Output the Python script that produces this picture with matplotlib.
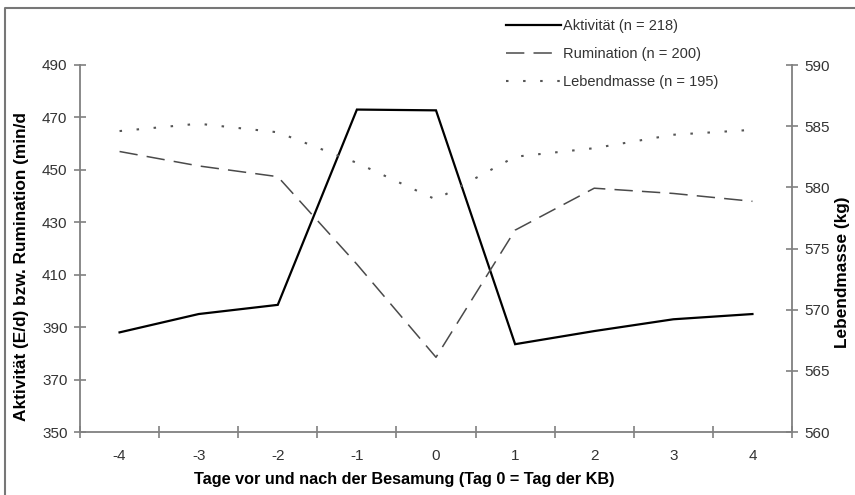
import numpy as np
import matplotlib.pyplot as plt
from matplotlib.lines import Line2D

plt.rcParams['font.family'] = ['Liberation Sans', 'DejaVu Sans']

tage = [-4, -3, -2, -1, 0, 1, 2, 3, 4]
aktivitaet = [388, 395, 398.5, 473, 472.7, 383.5, 388.5, 393, 395]
rumination = [457, 451.5, 447.4, 414, 378.5, 427, 443, 441, 438]
lebendmasse = [584.6, 585.2, 584.5, 582.0, 579.0, 582.5, 583.2, 584.3, 584.7]

labels = ['Aktivität (n = 218)', 'Rumination (n = 200)', 'Lebendmasse (n = 195)']

axc = '#808080'
txc = '#333333'

fig = plt.figure(figsize=(8.55, 4.95), dpi=100)
ax = fig.add_axes([80/855, 1-432/495, (792-80)/855, (432-65)/495])
ax2 = ax.twinx()

l1, = ax.plot(tage, aktivitaet, color='black', lw=1.6, solid_joinstyle='miter')
l2, = ax.plot(tage, rumination, color='#4a4a4a', lw=1.1, dashes=(12, 6))
l3, = ax2.plot(tage, lebendmasse, color='#555555', lw=1.5, dashes=(1.2, 7))

ax.set_xlim(-4.5, 4.5)
ax.set_ylim(350, 490)
ax.set_yticks(np.arange(350, 491, 20))
ax2.set_ylim(560, 590)
ax2.set_yticks(np.arange(560, 591, 5))

# category axis: tick marks between categories, labels at centres
ax.set_xticks(np.arange(-4.5, 4.6, 1))
ax.set_xticklabels([])
ax.set_xticks(tage, minor=True)
ax.set_xticklabels([str(t) for t in tage], minor=True)
ax.tick_params(axis='x', which='major', direction='inout', length=8, width=1.2, color=axc)
ax.tick_params(axis='x', which='minor', length=0, pad=12, labelsize=11, labelcolor=txc)
ax.tick_params(axis='y', direction='inout', length=8, width=1.2, color=axc,
               labelsize=11, labelcolor=txc, pad=5)
ax2.tick_params(axis='y', direction='inout', length=8, width=1.2, color=axc,
                labelsize=11, labelcolor=txc, pad=5)

for a in (ax, ax2):
    a.spines['top'].set_visible(False)
    for s in ('left', 'right', 'bottom'):
        a.spines[s].set_color(axc)
        a.spines[s].set_linewidth(1.3)
ax.spines['right'].set_visible(False)
ax2.spines['left'].set_visible(False)
ax2.spines['bottom'].set_visible(False)

ax.set_ylabel('Aktivität (E/d) bzw. Rumination (min/d', fontsize=12.4, fontweight='bold')
ax2.set_ylabel('Lebendmasse (kg)', fontsize=12.4, fontweight='bold')
ax.set_xlabel('Tage vor und nach der Besamung (Tag 0 = Tag der KB)', fontsize=11.7,
              fontweight='bold')
ax.yaxis.set_label_coords(-0.072, 0.45)
ax2.yaxis.set_label_coords(1.061, 0.435)
ax.xaxis.set_label_coords(0.455, -0.11)

fig.legend([l1, l2, l3], labels, loc='upper left',
           bbox_to_anchor=(506/855, 1-19/495), frameon=False, fontsize=10.5,
           handlelength=3.8, handletextpad=0.1, labelspacing=0.95,
           borderpad=0, borderaxespad=0, labelcolor=txc)

# frame of the chart area: only left and top edges visible
fig.lines.append(Line2D([5/855, 5/855, 1], [0, 1-8/495, 1-8/495],
                        transform=fig.transFigure, color='#777777', lw=1.5))

fig.savefig('out.png', dpi=100)
